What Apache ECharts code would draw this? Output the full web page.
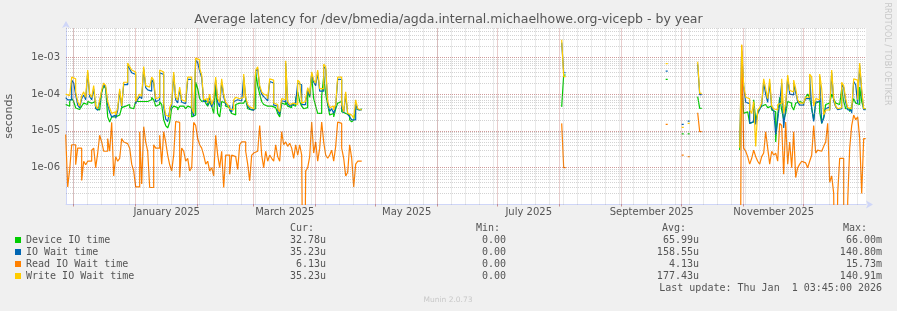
<!DOCTYPE html>
<html><head><meta charset="utf-8">
<script src="https://cdn.jsdelivr.net/npm/echarts@6/dist/echarts.min.js"></script>
<style>html,body{margin:0;padding:0;background:#F0F0F0;}#c{width:897px;height:311px;}</style>
</head><body><div id="c"></div>
<script>
// ---------------- DATA (values in microseconds, one value per day) ----------------
const seriesNames = ['Device IO time', 'IO Wait time', 'Read IO Wait time', 'Write IO Wait time'];
const seriesColors = ['#00CC00', '#0066B3', '#FF8000', '#FFCC00'];
// contiguous runs of daily data: first day and number of days
const segStart = ['2024-11-27', '2025-08-02', '2025-09-23', '2025-10-01', '2025-10-04', '2025-10-09', '2025-10-30'];
const segLen = [148, 2, 1, 1, 1, 2, 63];

const deviceIO = [
  52,47,63,75,63,42,38,40,47,57, 52,63,57,52,63,40,37,40,110,170, 140,24,17.5,24,24,27,27,30,43,47,
  47,52,43,40,37,63,63,70,63,63, 63,57,70,82,70,47,52,63,52,20, 14,12,17.5,40,47,43,37,47,47,43,
  40,47,43,24,27,210,140,75,63,70, 57,47,63,47,
  30,160,30,24,63,57,47,43,37,30, 27,52,57,52,57,63,70,40,37,33, 40,400,170,100,63,52,47,52,47,52,
  43,40,30,24,57,52,63,47,43,52, 47,75,115,63,47,40,43,140,82,320, 75,47,30,30,90,300,100,52,27,30,
  24,40,57,63,33,30,30,27,20,17.5, 20,40,37,40,
  45,330,
  250,
  8.3,
  8.3,
  85,41,
  3.0, 170,30,33,33,16,17.5,70,20,30,40, 47,52,57,43,47,37,33,5.0,27,82, 37,20,30,63,57,47,37,57,63,63,
  57,63,82,100,75,43,20,57,63,33, 16,24,52,57,52,100,75,57,52,57, 140,63,40,40,33,47,75,57,52,155, 63,40
];
const ioWait = [
  80,70,70,240,200,95,50,42,75,95, 70,380,85,70,140,42,36,60,120,180, 150,50,32,24,27,22,36,120,45,180,
  180,600,480,380,340,55,72,85,75,480, 150,130,120,250,200,62,70,380,340,45, 21,18,35,48,340,70,58,130,60,55,
  62,250,250,36,25,820,720,420,280,62, 65,50,85,45,
  60,240,60,45,210,85,52,47,38,33, 62,70,65,65,70,290,75,47,40,36, 40,420,480,150,100,85,75,65,220,200,
  50,47,36,28,66,62,700,55,47,52, 52,60,200,180,52,52,62,130,90,360, 210,170,380,120,120,560,480,58,34,40,
  30,45,250,250,42,31,100,28,24,20, 20,55,38,37,
  2500,380,
  420,
  15,
  18.5,
  650,97,
  3.5, 1500,160,60,55,16,18,50,15,30,38, 50,200,100,60,200,42,35,8,20,57, 200,12,45,280,100,95,200,110,62,50,
  50,57,75,75,300,40,18,62,62,300, 16,22,40,45,36,380,65,45,38,40, 180,150,60,38,35,30,220,180,55,600, 110,38
];
const readWait = [
  8,0.3,0.9,4.2,4.2,1.2,3.4,3.4,0.45,1.5, 1.2,1.5,1.5,3.0,3.4,1.0,2.5,7.6,5.0,2.8, 2.8,6.2,2.8,17,0.6,2.0,1.5,1.8,6.2,5.0,
  4.5,4.2,3.4,1.25,0.82,0.3,0.3,9.5,0.36,13, 5.0,2.8,0.29,0.29,4.2,3.4,3.4,7.6,1.25,9.5, 5.0,2.2,1.2,0.82,2.2,18,17,0.54,3.4,2.8,
  1.5,1.8,0.82,1.0,17,14,6.2,4.2,3.4,2.2, 1.25,1.5,0.82,1.0,
  0.6,7.6,2.2,1.0,2.8,0.29,2.2,2.2,0.66,2.2, 2.0,1.8,0.9,4.2,5.0,5.0,2.8,1.25,0.44,2.2, 2.5,2.8,2.8,14,2.2,1.0,2.8,1.5,2.2,1.8,
  1.5,4.2,2.0,1.5,9.5,4.2,5.0,3.8,4.6,3.4, 1.8,4.2,2.2,4.2,2.2,0,0.82,1.0,2.0,17.5, 2.5,5.0,1.5,3.4,17.5,5.0,2.2,1.8,2.2,3.0,
  1.5,3.8,17.5,16,3.4,1.8,0.6,0.75,4.2,1.8, 0.3,1.25,1.5,1.5,
  16,1.0,
  15,
  2.2,
  2.0,
  31,9.5,
  0, 2200, 3.4,2.8,2.0,1.25,1.8,3.0,2.0,1.5,1.25, 2.0,2.5,9.5,3.4,1.25,2.8,2.2,2.5,1.5,16, 14,0.66,17.5,1.25,5.0,1.0,9.5,0.54,1.0,1.25,
  1.5,1.35,1.25,1.0,1.5,2.2,14,2.5,3.0,2.8, 2.8,3.8,5.0,16,0.4,0.6,0.2,0,0.2,1.8, 1.8,0,0,0.12,3.4,14,27,20,24,6.2, 0.2,6.2
];
const writeWait = [
  100,90,82,290,260,115,63,47,90,115, 82,450,100,82,170,47,40,70,130,200, 170,63,42,30,33,27,43,140,47,210,
  210,700,560,450,400,63,82,100,88,560, 170,155,140,290,240,75,82,450,400,57, 27,24,43,57,400,82,70,155,70,63,
  75,290,290,43,30,950,850,500,330,70, 75,57,100,52,
  75,290,75,60,260,100,60,52,40,37, 70,82,75,75,82,350,82,52,45,40, 40,450,550,170,115,100,90,75,260,240,
  57,52,40,33,75,70,800,63,52,57, 57,52,240,210,57,63,75,150,100,400, 240,200,450,140,140,650,560,63,43,47,
  37,52,290,290,52,33,115,30,27,24, 22,70,40,37,
  3000,300,
  670,
  12.5,
  16,
  760,105,
  3.5, 2200,170,82,75,37,30,63,3.8,37,43, 57,260,140,75,260,47,40,37,52,57, 260,30,57,330,125,115,240,140,70,57,
  57,63,82,82,350,290,47,75,70,350, 140,27,37,37,40,450,75,47,40,43, 210,170,75,43,40,43,260,240,70,700, 140,40
];
const seriesValues = [deviceIO, ioWait, readWait, writeWait];

// legend statistics (as printed)
const statCur = ['32.78u', '35.23u', '6.13u', '35.23u'];
const statMin = ['0.00', '0.00', '0.00', '0.00'];
const statAvg = ['65.99u', '158.55u', '4.13u', '177.43u'];
const statMax = ['66.00m', '140.80m', '15.73m', '140.91m'];
const statHeaders = ['Cur:', 'Min:', 'Avg:', 'Max:'];
const lastUpdate = 'Last update: Thu Jan  1 03:45:00 2026';

// x axis tick labels (month, label)
const xTickMonths = ['2025-01', '2025-03', '2025-05', '2025-07', '2025-09', '2025-11'];
const xTickLabels = ['January 2025', 'March 2025', 'May 2025', 'July 2025', 'September 2025', 'November 2025'];

const titleText = 'Average latency for /dev/bmedia/agda.internal.michaelhowe.org-vicepb - by year';
const axisStart = Date.UTC(2024, 10, 27, 3, 45);
const axisEnd = Date.UTC(2026, 0, 1, 3, 45);
const yMin = 1e-7, yMax = 6.25e-3;

// ---------------- BUILD ----------------
const DAY = 86400000;
const ZERO = 1e-12; // zero on a log axis: drawn to the bottom edge
function build(values) {
  const out = [];
  let k = 0;
  segStart.forEach((s, j) => {
    const t0 = Date.parse(s + 'T00:00:00Z');
    for (let i = 0; i < segLen[j]; i++, k++) {
      const v = values[k] === 0 ? ZERO : values[k] * 1e-6;
      out.push([t0 + i * DAY, v], [t0 + (i + 1) * DAY, v]);
    }
    out.push([t0 + segLen[j] * DAY, '-']);
  });
  return out;
}

// grid lines (through the axes)
const monthLines = [], weekLines = [], labelPos = [];
for (let m = 0; m < 13; m++) monthLines.push({ xAxis: Date.UTC(2024, 11 + m, 1) });
for (let t = Date.UTC(2024, 11, 1); t < axisEnd; t += 7 * DAY) weekLines.push({ xAxis: t });
xTickMonths.forEach(s => {
  const [y, mo] = s.split('-').map(Number);
  labelPos.push((Date.UTC(y, mo - 1, 1) + Date.UTC(y, mo, 1)) / 2);
});
const hLine = v => [{ coord: [axisStart, v] }, { coord: [axisEnd, v] }];
const minorH = [], majorH = [];
for (let e = -7; e <= -3; e++) {
  if (e > -7) majorH.push(hLine(Math.pow(10, e)));
  for (let m = 2; m <= 9; m++) {
    const v = m * Math.pow(10, e);
    if (v < yMax) minorH.push(hLine(v));
  }
}
const minorStyle = { color: 'rgba(140,140,140,0.38)', type: 'dotted', width: 1 };
const majorStyle = { color: 'rgba(150,30,30,0.45)', type: 'dotted', width: 1 };
function gridSeries(data, style, z) {
  return {
    type: 'line', data: [], z: z, silent: true,
    markLine: { silent: true, symbol: ['none', 'none'], label: { show: false }, animation: false,
      lineStyle: style, emphasis: { disabled: true }, data: data }
  };
}

const FONT = '"DejaVu Sans", sans-serif';
const MONO = '"DejaVu Sans Mono", monospace';
const TXT = '#555555';

const graphic = [];
const headerX = [290, 476, 662, 843];
statHeaders.forEach((h, i) => graphic.push({ type: 'text', x: headerX[i], y: 228,
  style: { text: h, font: '10px ' + MONO, fill: TXT, align: 'left', verticalAlign: 'middle', textAlign: 'left', textVerticalAlign: 'middle' } }));
const colRight = [326, 506, 699, 882];
[statCur, statMin, statAvg, statMax].forEach((col, c) => col.forEach((txt, r) => graphic.push({
  type: 'text', x: colRight[c], y: 240 + 12 * r,
  style: { text: txt, font: '10px ' + MONO, fill: TXT, align: 'right', verticalAlign: 'middle', textAlign: 'right', textVerticalAlign: 'middle' } })));
graphic.push({ type: 'text', x: 882, y: 288,
  style: { text: lastUpdate, font: '10px ' + MONO, fill: TXT, align: 'right', verticalAlign: 'middle', textAlign: 'right', textVerticalAlign: 'middle' } });
graphic.push({ type: 'text', x: 448, y: 300,
  style: { text: 'Munin 2.0.73', font: '7.5px ' + FONT, fill: '#c8c8c8', align: 'center', verticalAlign: 'middle', textAlign: 'center', textVerticalAlign: 'middle' } });
graphic.push({ type: 'text', x: 887, y: 54, rotation: -Math.PI / 2,
  style: { text: 'RRDTOOL / TOBI OETIKER', font: '8px ' + FONT, fill: '#c8c8c8', align: 'center', verticalAlign: 'middle', textAlign: 'center', textVerticalAlign: 'middle' } });

const chart = echarts.init(document.getElementById('c'), null, { renderer: 'canvas' });
chart.setOption({
  animation: false,
  backgroundColor: '#F0F0F0',
  title: { text: titleText, left: 'center', top: 13, padding: 0,
    textStyle: { fontFamily: FONT, fontSize: 12.5, fontWeight: 'normal', color: TXT } },
  grid: { left: 66, right: 31, top: 28, bottom: 106.5, show: true, backgroundColor: '#FFFFFF', borderWidth: 0,
    containLabel: false, outerBoundsMode: 'none' },
  legend: { data: seriesNames, orient: 'vertical', left: 15, top: 234, padding: 0, itemGap: 0,
    itemWidth: 6, itemHeight: 6, icon: 'rect', selectedMode: false,
    textStyle: { fontFamily: MONO, fontSize: 10, color: TXT, lineHeight: 12 } },
  xAxis: {
    type: 'value', min: axisStart, max: axisEnd,
    axisLine: { show: true, lineStyle: { color: '#CFD6F8', width: 1 }, symbol: ['none', 'arrow'], symbolSize: [6, 7], symbolOffset: [0, 7] },
    axisTick: { show: true, customValues: monthLines.map(d => d.xAxis), length: 2, lineStyle: { color: 'rgba(150,30,30,0.45)' } },
    axisLabel: { customValues: labelPos, margin: 3, fontFamily: FONT, fontSize: 10, color: TXT,
      formatter: v => { const i = labelPos.indexOf(v); return i >= 0 ? xTickLabels[i] : ''; } },
    splitLine: { show: false }
  },
  yAxis: {
    type: 'log', logBase: 10, min: yMin, max: yMax,
    name: 'seconds', nameLocation: 'middle', nameGap: 51, nameRotate: 90,
    nameTextStyle: { fontFamily: FONT, fontSize: 11, color: TXT },
    axisLine: { show: true, lineStyle: { color: '#CFD6F8', width: 1 }, symbol: ['none', 'arrow'], symbolSize: [6, 7], symbolOffset: [0, 7] },
    axisTick: { show: false },
    axisLabel: { margin: 6, fontFamily: FONT, fontSize: 10, color: TXT, showMinLabel: false, showMaxLabel: false,
      formatter: v => { const e = Math.round(Math.log10(v)); if (Math.abs(Math.log10(v) - e) > 1e-6 || e <= -7) return ''; return '1e-' + String(-e).padStart(2, '0'); } },
    splitLine: { show: false }
  },
  graphic: graphic,
  series: [
    gridSeries(minorH.concat(weekLines), minorStyle, 1),
    gridSeries(majorH.concat(monthLines), majorStyle, 1)
  ].concat(seriesNames.map((name, i) => ({
    name: name, type: 'line', z: 2 + i, data: build(seriesValues[i]),
    showSymbol: false, symbol: 'none', connectNulls: false, clip: true,
    lineStyle: { color: seriesColors[i], width: 1.2 },
    itemStyle: { color: seriesColors[i] },
    emphasis: { disabled: true }
  })))
});
</script></body></html>
